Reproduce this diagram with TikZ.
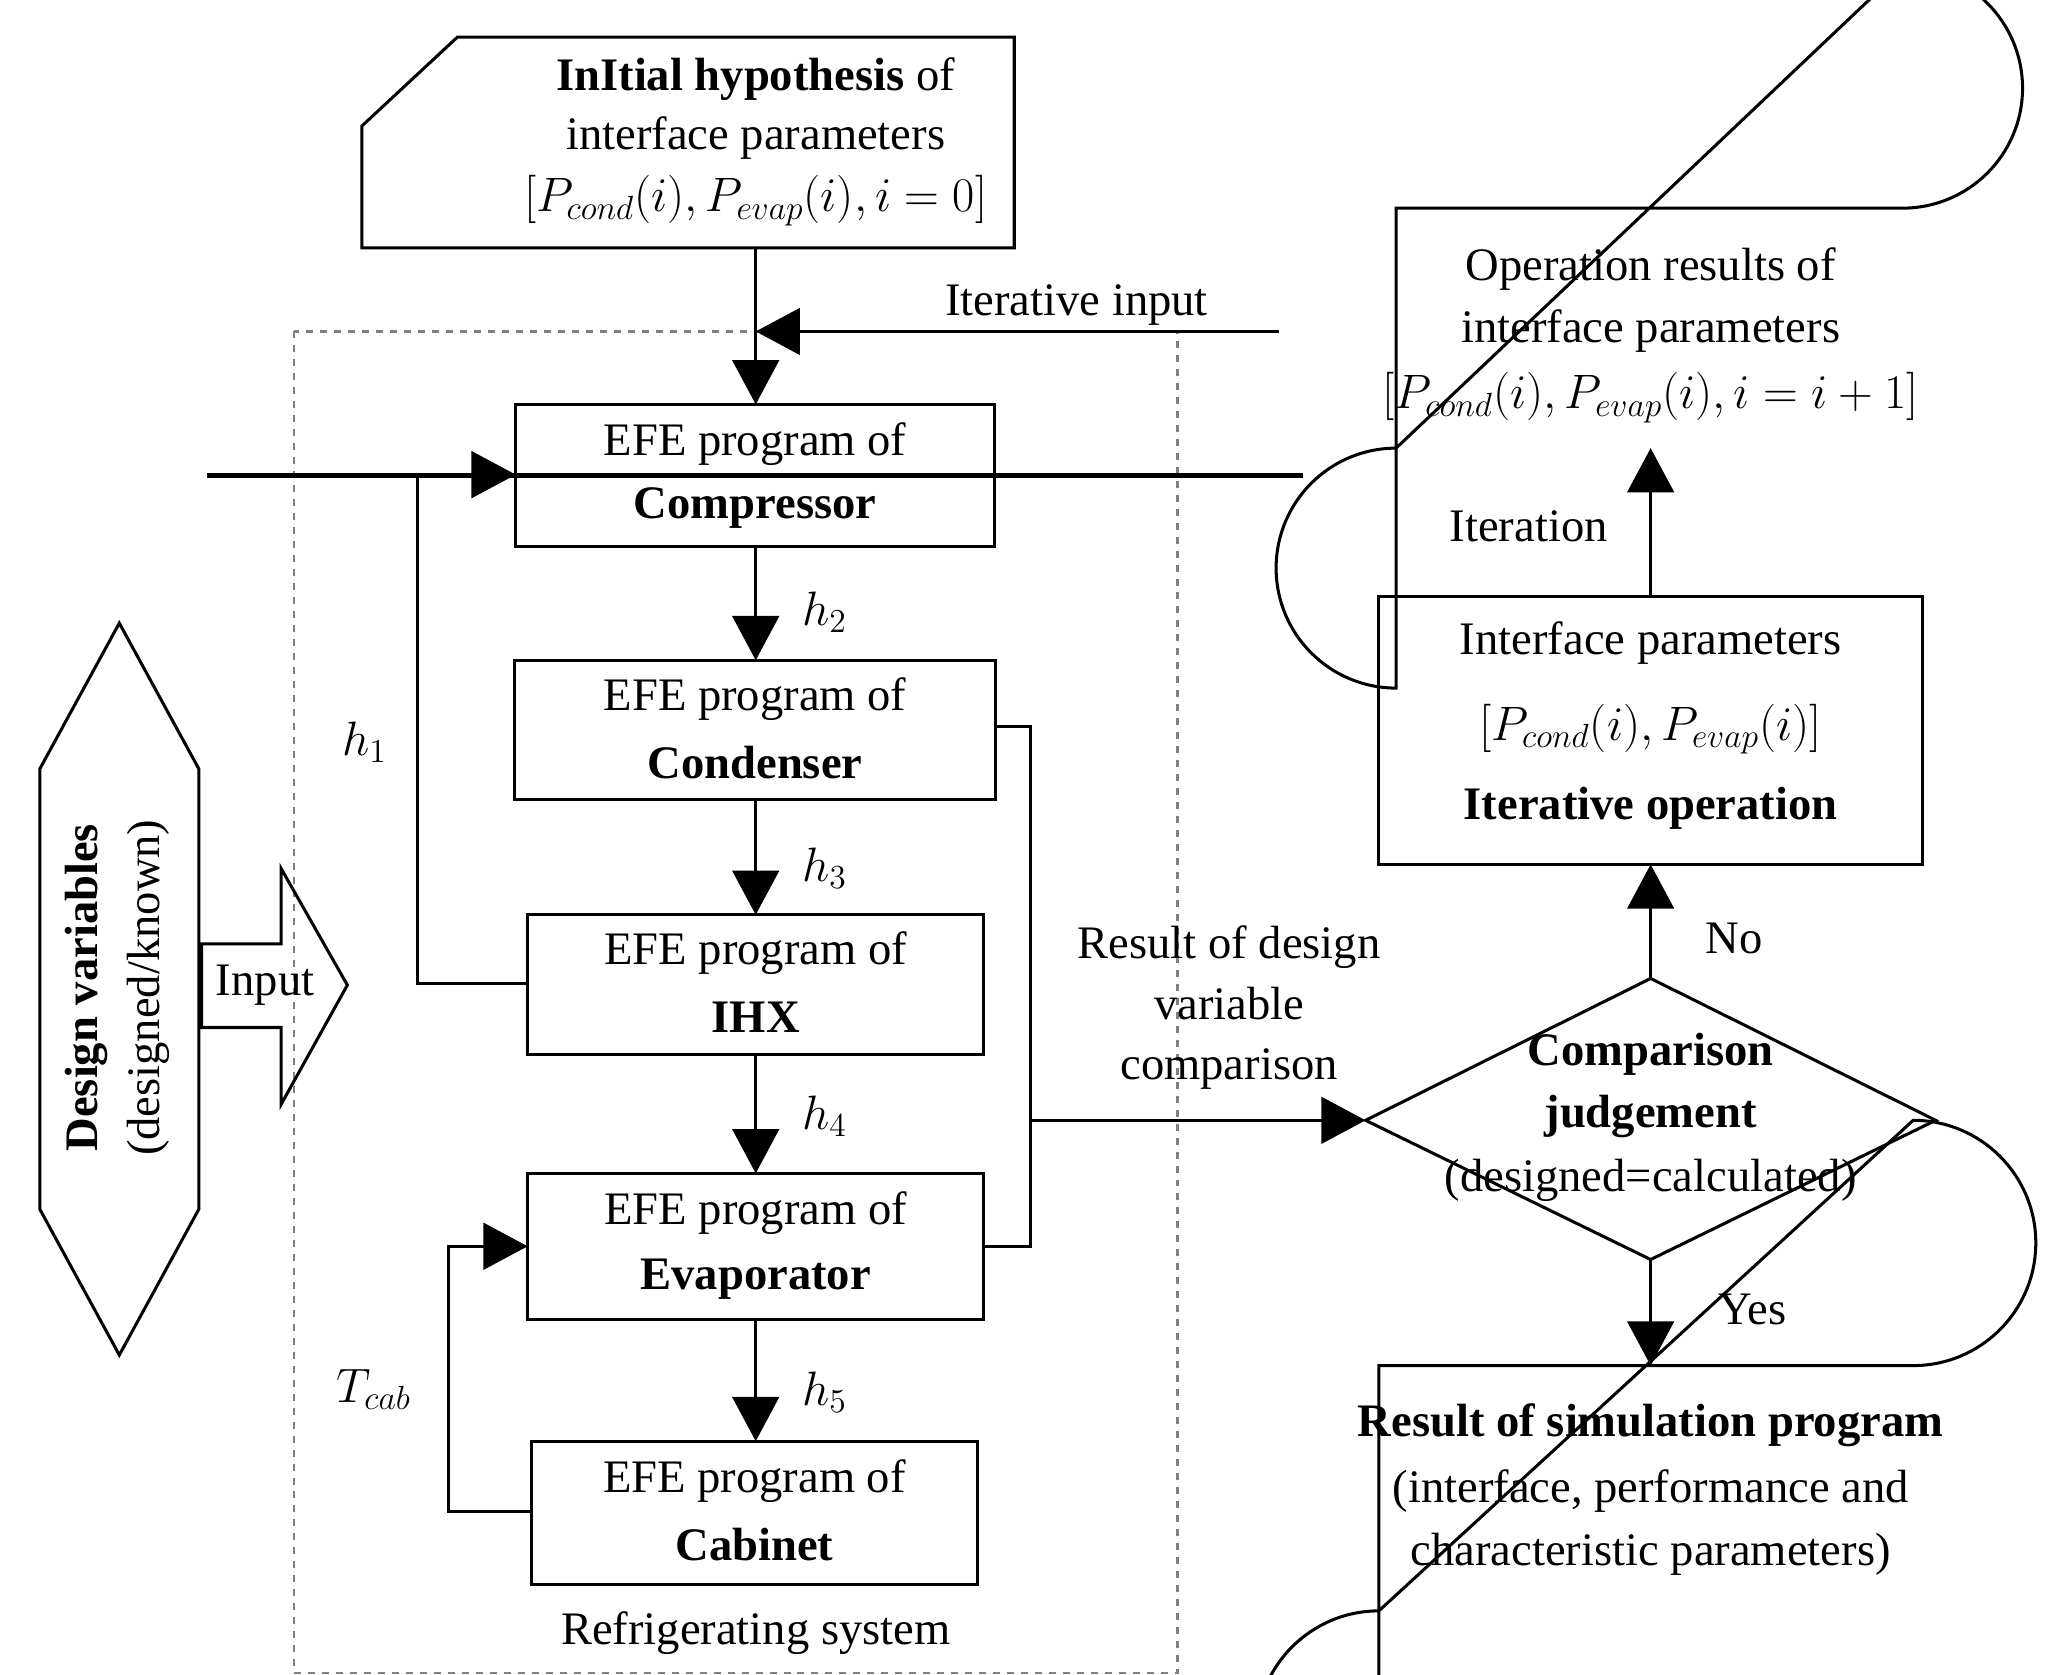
\documentclass[tikz,border=0pt]{standalone}
\usepackage{fontspec}
\setmainfont{Liberation Serif}
\usetikzlibrary{arrows.meta,shapes.geometric}
\begin{document}
\begin{tikzpicture}[x=0.02cm,y=-0.02cm,line width=1.3pt,
  every node/.style={font=\fontsize{20}{24}\selectfont},
  box/.style={draw,align=center,inner sep=0pt},
  arr/.style={-{Triangle[length=19pt,width=20pt]}},
  lbl/.style={font=\fontsize{22}{26}\selectfont}]
\useasboundingbox (0,0) rectangle (1553,1263);
% initial hypothesis
\draw (273,95) -- (345,28) -- (765,28) -- (765,187) -- (273,187) -- cycle;
\node (init) at (570,107) [align=center] {\textbf{InItial hypothesis} of\\[1pt] interface parameters\\[3pt] $[P_{cond}(i), P_{evap}(i), i=0]$};
\coordinate (initb) at (570,187);
% dashed frame
\draw[dashed,gray,line width=1pt] (222,250) rectangle (888,1262);
\node at (570,1232) {Refrigerating system};
% components
\node[box,minimum width=361\pgflinewidth] (comp) at (569.5,358.5) {};
\draw (389,305) rectangle (750,412);
\node at (569.5,335) {EFE program of}; \node at (569.5,383) {\textbf{Compressor}};
\draw (388,498) rectangle (751,603);
\node at (569.5,527) {EFE program of}; \node at (569.5,575) {\textbf{Condenser}};
\draw (398,690) rectangle (742,795);
\node at (570,719) {EFE program of}; \node at (570,767) {\textbf{IHX}};
\draw (398,885) rectangle (742,995);
\node at (570,915) {EFE program of}; \node at (570,965) {\textbf{Evaporator}};
\draw (401,1087) rectangle (737,1195);
\node at (569,1117) {EFE program of}; \node at (569,1165) {\textbf{Cabinet}};
\coordinate (compT) at (570,305); \coordinate (compB) at (570,412);
\coordinate (condT) at (570,498); \coordinate (condB) at (570,603);
\coordinate (ihxT) at (570,690); \coordinate (ihxB) at (570,795);
\coordinate (evT) at (570,885); \coordinate (evB) at (570,995);
\coordinate (cabT) at (570,1087);
\draw[arr] (initb) -- (compT);
\draw[arr] (compB) -- (condT); \node[lbl] at (622,462) {$h_2$};
\draw[arr] (condB) -- (ihxT); \node[lbl] at (622,655) {$h_3$};
\draw[arr] (ihxB) -- (evT); \node[lbl] at (622,842) {$h_4$};
\draw[arr] (evB) -- (cabT); \node[lbl] at (622,1050) {$h_5$};
% loops
\draw[arr] (398,742) -- (315,742) -- (315,358) -- (389,358);
\node[lbl] at (275,560) {$h_1$};
\draw[arr] (401,1140) -- (338,1140) -- (338,940) -- (398,940);
\node[lbl] at (282,1048) {$T_{cab}$};
\draw (751,548) -- (777,548) -- (777,940) -- (742,940);
% right side
\draw (1053,157) -- (1435,157) arc (90:-90:90.5) -- (1053,338) arc (270:90:90.5) -- cycle;
\node at (1245,203) {Operation results of};
\node at (1245,250) {interface parameters};
\node at (1245,300) {$[P_{cond}(i), P_{evap}(i), i=i+1]$};
\coordinate (operL) at (965,250); \coordinate (operB) at (1245,338);
\draw[arr] (operL) -- (570,250);
\node at (812,230) {Iterative input};
\draw (1040,450) rectangle (1450,652);
\node at (1245,485) {Interface parameters};
\node at (1245,550) {$[P_{cond}(i), P_{evap}(i)]$};
\node at (1245,610) {\textbf{Iterative operation}};
\draw[arr] (1245,450) -- (operB); \node at (1153,397) {Iteration};
\draw (1030,845) -- (1245,738) -- (1460,845) -- (1245,950) -- cycle;
\node at (1245,795) {\textbf{Comparison}};
\node at (1245,842) {\textbf{judgement}};
\node at (1245,890) {(designed=calculated)};
\draw[arr] (777,845) -- (1030,845);
\node[align=center] at (927,760) {Result of design\\[2pt] variable\\[2pt] comparison};
\draw[arr] (1245,738) -- (1245,652); \node at (1308,708) {No};
\draw[arr] (1245,950) -- (1245,1030); \node at (1322,988) {Yes};
\draw (1040,1030) -- (1443,1030) arc (90:-90:92.5) -- (1040,1215) arc (270:90:92.5) -- cycle;
\node at (1245,1075) {\textbf{Result of simulation program}};
\node at (1245,1125) {(interface, performance and};
\node at (1245,1172) {characteristic parameters)};
% design variables
\draw (90,470) -- (150,580) -- (150,912) -- (90,1022) -- (30,912) -- (30,580) -- cycle;
\node[rotate=90] at (65,745) {\textbf{Design variables}};
\node[rotate=90] at (112,745) {(designed/known)};
\draw (152,712) -- (212,712) -- (212,655) -- (262,743) -- (212,833) -- (212,775) -- (152,775) -- cycle;
\node at (200,743) {Input};
\end{tikzpicture}
\end{document}
